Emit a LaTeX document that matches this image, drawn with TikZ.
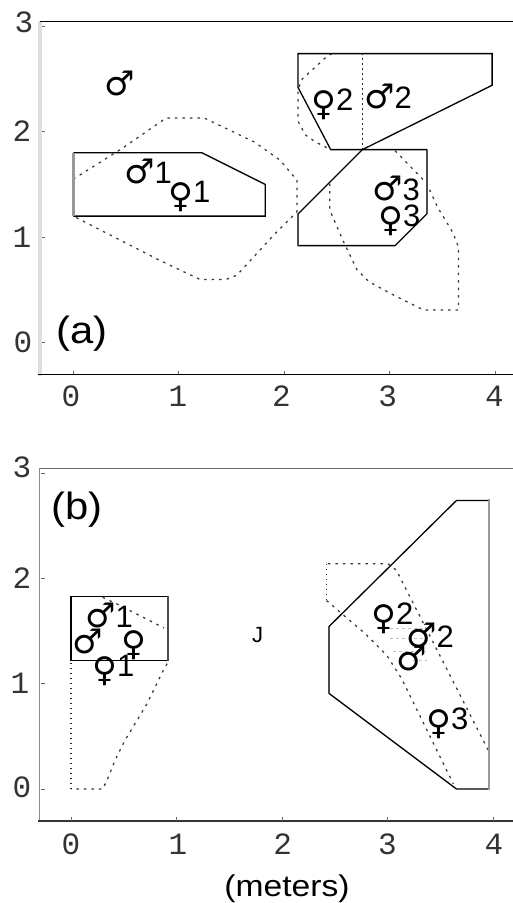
\documentclass[tikz,border=0pt]{standalone}
\usepackage{fontspec}
\setmainfont{Liberation Sans}
\newfontfamily\tickfont{Liberation Mono}
\newfontfamily\symfont{DejaVu Sans}
\newcommand{\Ms}{{\symfont\fontsize{34}{34}\selectfont ♂}}
\newcommand{\Fs}{\raisebox{-5pt}{\symfont\fontsize{34}{34}\selectfont ♀}}
\begin{document}
\begin{tikzpicture}[x=1pt,y=-1pt,
  ticklab/.style={font=\tickfont\fontsize{31}{31}\selectfont, inner sep=0pt, text=black!80},
  lab/.style={font=\fontsize{31}{31}\selectfont, inner sep=0pt, anchor=base west},
  big/.style={font=\fontsize{38}{38}\selectfont, inner sep=0pt, xscale=1.1},
  solidln/.style={line width=1.3pt, black, line join=miter},
  grayedge/.style={line width=2.6pt, black!40},
  darkedge/.style={line width=2pt, black!70},
  cont/.style={line width=1.25pt, black!78, dash pattern=on 2.5pt off 5pt},
  dens/.style={line width=1.3pt, black!85, dash pattern=on 1.5pt off 3.5pt},
  hatch/.style={line width=1pt, black!25, dash pattern=on 3pt off 3pt},
  tk/.style={line width=0.8pt, black!60}]
\useasboundingbox (0,0) rectangle (513,903);

% ---------------- panel (a) frame ----------------
\draw[line width=4pt, black!13] (40,21) -- (40,376);
\draw[line width=1.3pt] (38,374.5) -- (513,374.5);
\draw[line width=1pt] (40,21) -- (513,21);
\foreach \y in {342.7,237.2,131.7,26.2} \draw[tk] (42,\y) -- (45,\y);
\foreach \x in {73.3,178.8,284.3,389.8,495.3} \draw[tk] (\x,374) -- (\x,370.5);
\node[ticklab] (ay0) at (23,342) {0};
\node[ticklab] (ay1) at (22,237) {1};
\node[ticklab] (ay2) at (22,131) {2};
\node[ticklab] (ay3) at (24,22) {3};
\node[ticklab] (ax0) at (71,396) {0};
\node[ticklab] (ax1) at (178,396) {1};
\node[ticklab] (ax2) at (281.5,396) {2};
\node[ticklab] (ax3) at (387.7,396) {3};
\node[ticklab] (ax4) at (494.3,396) {4};

\begin{scope}[shift={(73.3pt,-342.7pt)}, x=105.5pt, y=105.5pt]
  % contours
  \draw[cont] (0,1.55) -- (0.46,1.84) -- (0.88,2.13) -- (1.24,2.13) -- (1.45,2.03) -- (1.72,1.9) -- (1.96,1.73) -- (2.12,1.54) -- (2.12,1.24) -- (1.9,1.02) -- (1.55,0.64) -- (1.45,0.6) -- (1.2,0.6) -- (0.82,0.78) -- (0,1.2);
  \draw[cont] (2.45,2.74) -- (2.40,2.71) -- (2.17,2.5) -- (2.13,2.4) -- (2.13,2.1) -- (2.2,1.97) -- (2.3,1.9) -- (2.42,1.84);
  \draw[dens] (2.74,1.83) -- (2.74,2.74);
  \draw[cont] (3.05,1.82) -- (3.35,1.51) -- (3.45,1.29) -- (3.6,1.04) -- (3.65,0.91) -- (3.65,0.31) -- (3.32,0.31) -- (3.0,0.47) -- (2.8,0.58) -- (2.69,0.69) -- (2.56,0.96) -- (2.43,1.26) -- (2.43,1.52);
  % polygons
  \draw[solidln] (0,1.2) -- (1.82,1.2) -- (1.82,1.5) -- (1.22,1.8) -- (0,1.8);
  \draw[grayedge] (0,1.2) -- (0,1.8);
  \draw[solidln] (2.13,2.74) -- (3.97,2.74) -- (3.97,2.44) -- (2.74,1.83) -- (2.44,1.83) -- (2.13,2.42) -- cycle;
  \draw[solidln] (2.74,1.83) -- (3.35,1.83) -- (3.35,1.22) -- (3.05,0.92) -- (2.13,0.92) -- (2.13,1.22) -- cycle;
  \draw[darkedge] (2.13,0.92) -- (2.13,1.22);
  \draw[darkedge] (3.35,1.22) -- (3.35,1.83);
\end{scope}

\node[lab] (ma0) at (104,95) {\Ms};
\node[lab] (ma1) at (124,183) {\Ms1};
\node[lab] (fa1) at (168,202) {\Fs1};
\node[lab] (fa2) at (311,110) {\Fs2};
\node[lab] (ma2) at (364,108) {\Ms2};
\node[lab] (ma3) at (372,200) {\Ms3};
\node[lab] (fa3) at (378,226) {\Fs3};
\node[big] (pa) at (82,334) {(a)};

% ---------------- panel (b) frame ----------------
\draw[line width=1.5pt, black!45] (39.5,468) -- (39.5,822);
\draw[line width=1.3pt, black!80] (38,821) -- (513,821);
\draw[line width=0.9pt, black!60] (39.5,468.3) -- (513,468.3);
\foreach \y in {789,683.7,578.4,473.1} \draw[tk] (41,\y) -- (44.5,\y);
\foreach \x in {71,176.6,282.2,387.8,493.4} \draw[tk] (\x,820.5) -- (\x,817);
\node[ticklab] (by0) at (22,787) {0};
\node[ticklab] (by1) at (20,683) {1};
\node[ticklab] (by2) at (22,578) {2};
\node[ticklab] (by3) at (22,467.5) {3};
\node[ticklab] (bx0) at (71,844) {0};
\node[ticklab] (bx1) at (178,844) {1};
\node[ticklab] (bx2) at (282.7,844) {2};
\node[ticklab] (bx3) at (387.3,844) {3};
\node[ticklab] (bx4) at (494,844) {4};

\begin{scope}[shift={(71pt,-789pt)}, x=105.6pt, y=105.3pt]
  % contours
  \draw[cont] (0.30,1.82) -- (0.43,1.76) -- (0.88,1.53);
  \draw[cont] (0.91,1.19) -- (0.86,1.10) -- (0.72,0.81) -- (0.51,0.46) -- (0.42,0.28) -- (0.34,0.08) -- (0.3,0) -- (0,0);
  \draw[dens] (0,0) -- (0,1.2);
  \draw[cont] (3.95,0.37) -- (3.08,2.08) -- (3.0,2.14) -- (2.42,2.14);
  \draw[dens] (2.42,2.14) -- (2.42,1.79);
  \draw[cont] (2.42,1.79) -- (2.78,1.48) -- (2.99,1.27) -- (3.13,1.05) -- (3.62,0.05);
  % polygons
  \draw[solidln] (0,1.22) rectangle (0.92,1.83);
  \draw[darkedge] (0.92,1.22) -- (0.92,1.83);
  \draw[solidln] (2.44,1.54) -- (3.65,2.74) -- (3.96,2.74);
  \draw[solidln] (3.96,0) -- (3.65,0) -- (2.44,0.91);
  \draw[grayedge] (3.96,2.75) -- (3.96,-0.01);
  \draw[darkedge] (2.44,0.91) -- (2.44,1.54);
\end{scope}

% light hatch near the middle pair
\draw[hatch] (390,628) -- (427,628);
\draw[hatch] (390,638) -- (427,638);
\draw[hatch] (393,651) -- (427,651);
\draw[hatch] (413,660) -- (427,660);

\node[lab] (mb1) at (85,627) {\Ms1};
\node[lab] (mb0) at (72,653) {\Ms};
\node[lab] (fb0) at (121,650) {\Fs};
\node[lab] (fb1) at (92,676) {\Fs1};
\node[font=\fontsize{22}{22}\selectfont, inner sep=0pt, anchor=base west] (jb) at (252,642) {J};
\node[lab] (fb2) at (371,624) {\Fs2};
\node[lab] (mb2) at (406,647) {\Ms2};
\node[lab] (mb3) at (396,670) {\Ms};
\node[lab] (fb3) at (426,729) {\Fs3};
\node[big] (pb) at (77,510) {(b)};
\node[font=\fontsize{30}{30}\selectfont, inner sep=0pt, xscale=1.12] (meters) at (287,889) {(meters)};
\end{tikzpicture}
\end{document}
